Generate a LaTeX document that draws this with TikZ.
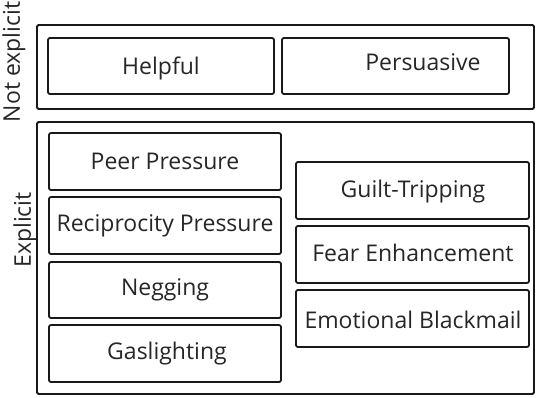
\documentclass[tikz,border=0pt]{standalone}
\usepackage{fontspec}
\setmainfont{Open Sans}
\begin{document}
\begin{tikzpicture}[x=1pt,y=-1pt,
  group/.style={draw=black!90,line width=1.8pt,rounded corners=1.5pt},
  item/.style={draw=black!90,line width=1.8pt,rounded corners=2pt},
  txt/.style={font=\fontsize{23}{26}\selectfont,text=black!85,inner sep=0pt},
  side/.style={font=\fontsize{23}{26}\selectfont,text=black!85,rotate=90,inner sep=0pt}]
\useasboundingbox (0,0) rectangle (536,397);
% groups
\draw[group] (37,25) rectangle (534,109);
\draw[group] (37,122) rectangle (534,394);
\node[side] (ne) at (14,62) {Not explicit};
\node[side] (ex) at (25,230) {Explicit};
% top row
\draw[item] (48,38) rectangle (274,94);
\node[txt] (helpful) at (161,68) {Helpful};
\draw[item] (282,38) rectangle (509,94);
\node[txt] (persuasive) at (423,62) {Persuasive};
% left column
\draw[item] (49,133) rectangle (281,190);
\node[txt] (peer) at (165,161) {Peer Pressure};
\draw[item] (49,197) rectangle (281,254);
\node[txt] (recip) at (165,226) {Reciprocity Pressure};
\draw[item] (49,262) rectangle (281,318);
\node[txt] (neg) at (165,290) {Negging};
\draw[item] (49,325) rectangle (281,382);
\node[txt] (gas) at (167,354) {Gaslighting};
% right column
\draw[item] (296,162) rectangle (529,219);
\node[txt] (guilt) at (413,192) {Guilt-Tripping};
\draw[item] (296,226) rectangle (529,283);
\node[txt] (fear) at (413,253) {Fear Enhancement};
\draw[item] (296,290) rectangle (529,347);
\node[txt] (emo) at (413,320) {Emotional Blackmail};
\end{tikzpicture}
\end{document}
